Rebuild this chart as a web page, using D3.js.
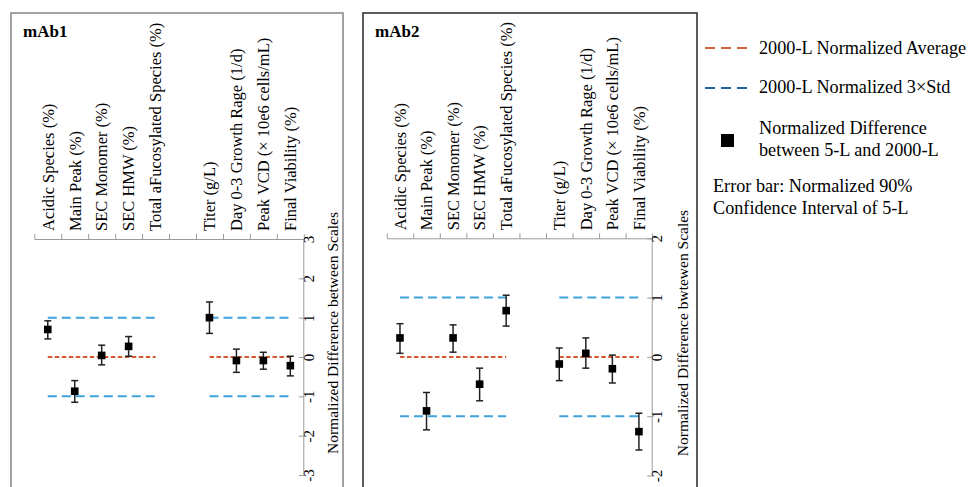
<!DOCTYPE html>
<html>
<head>
<meta charset="utf-8">
<script src="https://cdn.jsdelivr.net/npm/d3@7"></script>
<style>
  html, body { margin: 0; padding: 0; background: #fff; }
  svg { display: block; }
  svg text { font-family: "Liberation Serif", "Times New Roman", serif; }
</style>
</head>
<body>
<svg id="chart" width="969" height="487"></svg>
<script>
// ---------------- data ----------------
const categories = [
  "Acidic Species (%)", "Main Peak (%)", "SEC Monomer (%)", "SEC HMW (%)",
  "Total aFucosylated Species (%)", "", "Titer (g/L)",
  "Day 0-3 Growth Rage (1/d)", "Peak VCD (\u00d7 10e6 cells/mL)", "Final Viability (%)"
];
const groupA = [0, 4];   // category index range of first reference-line group
const groupB = [6, 9];   // second group

const mAb1Value = [0.70, -0.87, 0.04, 0.27, null, null, 1.00, -0.09, -0.09, -0.22];
const mAb1Low   = [0.46, -1.15, -0.20, 0.02, null, null, 0.60, -0.39, -0.31, -0.48];
const mAb1High  = [0.92, -0.60, 0.30, 0.52, null, null, 1.40, 0.20, 0.12, 0.02];

const mAb2Value = [0.32, -0.91, 0.32, -0.46, 0.78, null, -0.12, 0.06, -0.20, -1.26];
const mAb2Low   = [0.06, -1.23, 0.08, -0.74, 0.52, null, -0.40, -0.19, -0.44, -1.57];
const mAb2High  = [0.56, -0.60, 0.54, -0.19, 1.04, null, 0.15, 0.32, 0.03, -0.95];

const mAb1Ticks = [-3, -2, -1, 0, 1, 2, 3];
const mAb2Ticks = [-2, -1, 0, 1, 2];

const refAverage = 0;
const refStd = [-1, 1];

const legendLabels = [
  "2000-L Normalized Average",
  "2000-L Normalized 3\u00d7Std",
  ["Normalized Difference", "between 5-L and 2000-L"],
  ["Error bar: Normalized 90%", "Confidence Interval of 5-L"]
];

// ---------------- drawing ----------------
const svg = d3.select("#chart");
const ORANGE = "#d25a2c";
const BLUE = "#3fa3dc";
const SERIF = "Liberation Serif, Times New Roman, serif";

function panel(cfg) {
  const g = svg.append("g");
  // frame
  g.append("rect").attr("x", cfg.frame[0]).attr("y", cfg.frame[1])
    .attr("width", cfg.frame[2]).attr("height", 600)
    .attr("fill", "none").attr("stroke", cfg.frameColor).attr("stroke-width", 1.6);

  g.append("text").attr("x", cfg.frame[0] + 12).attr("y", 37)
    .attr("font-weight", "bold").attr("font-size", 17).text(cfg.title);

  const x = d3.scaleBand().domain(d3.range(categories.length)).range(cfg.xr).paddingInner(0).paddingOuter(0);
  const xEdge = d3.scaleLinear().domain([0, categories.length]).range(cfg.xr);
  const y = d3.scaleLinear().domain(cfg.yd).range([cfg.y0, cfg.y1]);
  const cx = i => x(i) + x.bandwidth() / 2;

  // category axis at top
  const ax = g.append("g").attr("transform", `translate(0,${cfg.y0})`)
    .call(d3.axisTop(xEdge).tickValues(d3.range(categories.length + 1)).tickSize(5).tickSizeOuter(0).tickFormat(""));
  ax.selectAll("path,line").attr("stroke", "#9a9a9a");

  g.selectAll(".cat").data(categories).enter().append("text")
    .attr("transform", (d, i) => `translate(${cx(i)},${cfg.y0 - 8}) rotate(-90)`)
    .attr("dy", "0.35em").attr("font-size", 16.5).attr("text-anchor", "start")
    .text(d => d);

  // value axis at right, ticks pointing inward
  const ay = g.append("g").attr("transform", `translate(${cfg.xr[1]},0)`)
    .call(d3.axisRight(y).tickValues(cfg.ticks).tickSize(-5).tickSizeOuter(0).tickFormat(d => String(d)));
  ay.attr("font-family", SERIF);
  ay.selectAll("path,line").attr("stroke", "#9a9a9a");
  ay.select(".domain").attr("d", `M0,${cfg.y0}V${cfg.y1}`);
  ay.selectAll("text")
    .attr("x", null).attr("dy", null)
    .attr("transform", "translate(5,0) rotate(-90)")
    .attr("text-anchor", "middle").attr("dy", "0.35em")
    .attr("font-size", 15).attr("font-family", SERIF).attr("fill", "#000");

  g.append("text")
    .attr("transform", `translate(${cfg.titleX},333) rotate(-90)`)
    .attr("dy", "0.35em").attr("text-anchor", "middle").attr("font-size", 15.5)
    .text(cfg.axisTitle);

  // reference lines
  [groupA, groupB].forEach(gr => {
    g.append("line").attr("x1", cx(gr[0])).attr("x2", cx(gr[1]))
      .attr("y1", y(refAverage)).attr("y2", y(refAverage))
      .attr("stroke", ORANGE).attr("stroke-width", 2).attr("stroke-dasharray", "4.5,2.5");
    refStd.forEach(v => {
      g.append("line").attr("x1", cx(gr[0])).attr("x2", cx(gr[1]))
        .attr("y1", y(v)).attr("y2", y(v))
        .attr("stroke", BLUE).attr("stroke-width", 2).attr("stroke-dasharray", "9,5");
    });
  });

  // error bars + markers
  const pts = cfg.val.map((v, i) => ({ i, v, lo: cfg.lo[i], hi: cfg.hi[i] })).filter(d => d.v !== null);
  const eb = g.selectAll(".eb").data(pts).enter().append("g").attr("stroke", "#222").attr("stroke-width", 1.5);
  eb.append("line").attr("x1", d => cx(d.i)).attr("x2", d => cx(d.i)).attr("y1", d => y(d.lo)).attr("y2", d => y(d.hi));
  eb.append("line").attr("x1", d => cx(d.i) - 3.5).attr("x2", d => cx(d.i) + 3.5).attr("y1", d => y(d.lo)).attr("y2", d => y(d.lo));
  eb.append("line").attr("x1", d => cx(d.i) - 3.5).attr("x2", d => cx(d.i) + 3.5).attr("y1", d => y(d.hi)).attr("y2", d => y(d.hi));
  g.selectAll(".pt").data(pts).enter().append("rect")
    .attr("x", d => cx(d.i) - 3.8).attr("y", d => y(d.v) - 3.8)
    .attr("width", 7.6).attr("height", 7.6).attr("fill", "#000");
}

panel({
  title: "mAb1", frame: [11, 13, 332], frameColor: "#8c8c8c",
  xr: [34.3, 303.8], yd: [3, -3], y0: 239, y1: 475, ticks: mAb1Ticks,
  titleX: 333, axisTitle: "Normalized Difference between Scales",
  val: mAb1Value, lo: mAb1Low, hi: mAb1High
});
panel({
  title: "mAb2", frame: [363, 13, 334], frameColor: "#333",
  xr: [386.7, 652.2], yd: [2, -2], y0: 238.3, y1: 475.5, ticks: mAb2Ticks,
  titleX: 682.5, axisTitle: "Normalized Difference bwtewen Scales",
  val: mAb2Value, lo: mAb2Low, hi: mAb2High
});

// ---------------- legend ----------------
const lg = svg.append("g").attr("font-size", 18.2);
lg.append("line").attr("x1", 705).attr("x2", 748).attr("y1", 48).attr("y2", 48)
  .attr("stroke", "#d4622f").attr("stroke-width", 2.2).attr("stroke-dasharray", "10,6");
lg.append("text").attr("x", 759).attr("y", 54).text(legendLabels[0]);
lg.append("line").attr("x1", 705).attr("x2", 748).attr("y1", 88).attr("y2", 88)
  .attr("stroke", "#1f63a8").attr("stroke-width", 2.2).attr("stroke-dasharray", "10,6");
lg.append("text").attr("x", 759).attr("y", 93).text(legendLabels[1]);
lg.append("rect").attr("x", 721).attr("y", 134).attr("width", 13).attr("height", 13).attr("fill", "#000");
lg.append("text").attr("x", 759).attr("y", 134).text(legendLabels[2][0]);
lg.append("text").attr("x", 759).attr("y", 156).text(legendLabels[2][1]);
lg.append("text").attr("x", 713).attr("y", 192).text(legendLabels[3][0]);
lg.append("text").attr("x", 713).attr("y", 214).text(legendLabels[3][1]);
</script>
</body>
</html>
